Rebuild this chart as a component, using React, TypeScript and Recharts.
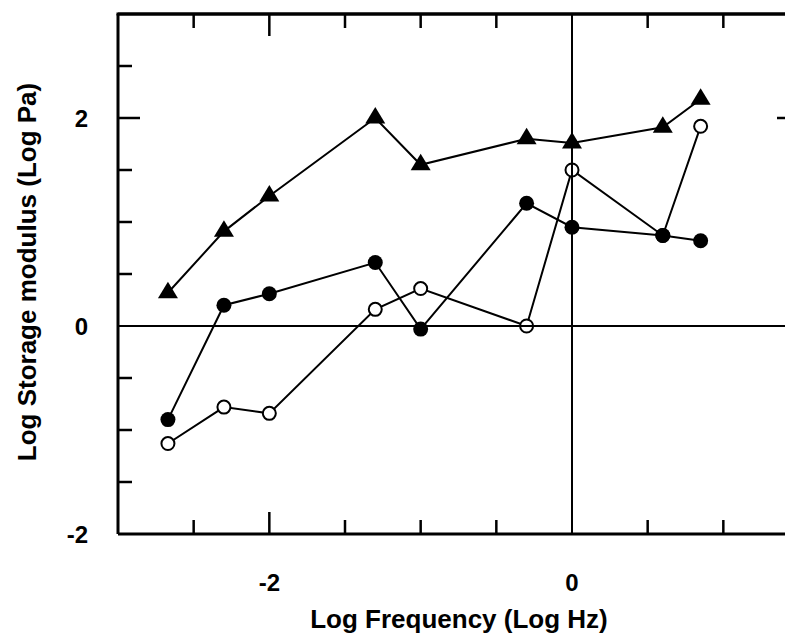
import React from "react";
import {
  LineChart,
  Line,
  XAxis,
  YAxis,
  ReferenceLine,
  Label,
} from "recharts";

// log10 of test frequency (Hz)
const logFreq = [-2.67, -2.3, -2.0, -1.3, -1.0, -0.3, 0, 0.6, 0.85];

// log10 storage modulus (Pa), one series per sample
const triangleSeries = [0.32, 0.91, 1.25, 2.0, 1.55, 1.8, 1.76, 1.91, 2.18];
const filledSeries = [-0.9, 0.2, 0.31, 0.61, -0.03, 1.18, 0.95, 0.87, 0.82];
const openSeries = [-1.13, -0.78, -0.84, 0.16, 0.36, 0.0, 1.5, 0.87, 1.92];

const xTicks = [-2.5, -2, -1.5, -1, -0.5, 0, 0.5, 1];
const yTicks = [-2, -1.5, -1, -0.5, 0, 0.5, 1, 1.5, 2, 2.5, 3];
const xLabels = [-2, 0];
const yLabels = [-2, 0, 2];
const X_MIN = -3;
const X_MAX = 1.5;
const Y_MIN = -2;
const Y_MAX = 3;

const rows = logFreq.map((f, i) => ({
  f,
  tri: triangleSeries[i],
  filled: filledSeries[i],
  open: openSeries[i],
}));

const FONT = "'Liberation Sans', Arial, Helvetica, sans-serif";
const CHART_W = 800;
const CHART_H = 632;
const MARGIN_TOP = 6;
const MARGIN_RIGHT = 9;
const X_AXIS_H = 106;
const Y_AXIS_W = 110;
const PLOT_H = CHART_H - MARGIN_TOP - X_AXIS_H;
const PLOT_W = CHART_W - Y_AXIS_W - MARGIN_RIGHT;
const MAJOR = 22;
const MINOR = 14;
const TICK_W = 2.5;
const FRAME_W = 3;
const ZERO_W = 2;

const tickLen = (v: number, labels: number[]) => (labels.includes(v) ? MAJOR : MINOR);

// bottom axis: inward ticks plus mirror stubs on the upper frame;
// at x = 0 the tick runs the full height as the vertical zero line
function BottomTick({ x, y, payload }: any) {
  const v = payload.value;
  const len = tickLen(v, xLabels);
  const top = y - PLOT_H;
  return (
    <g>
      {v === 0 ? (
        <line x1={x} y1={y} x2={x} y2={top} stroke="#000" strokeWidth={ZERO_W} />
      ) : (
        <g>
          <line x1={x} y1={y} x2={x} y2={y - len} stroke="#000" strokeWidth={TICK_W} />
          <line x1={x} y1={top} x2={x} y2={top + len} stroke="#000" strokeWidth={TICK_W} />
        </g>
      )}
      {xLabels.includes(v) && (
        <text x={x} y={y + 48} textAnchor="middle" dominantBaseline="central"
          fontFamily={FONT} fontWeight="bold" fontSize={24} fill="#000">
          {v}
        </text>
      )}
    </g>
  );
}

// left axis: inward ticks plus mirror stubs on the right edge;
// y = 0 becomes the horizontal zero line and the top value closes the frame
function LeftTick({ x, y, payload }: any) {
  const v = payload.value;
  const right = x + PLOT_W;
  if (v === Y_MAX) {
    return <line x1={x - FRAME_W / 2} y1={y} x2={right} y2={y} stroke="#000" strokeWidth={FRAME_W} />;
  }
  const len = v === Y_MIN ? 0 : tickLen(v, yLabels);
  return (
    <g>
      {v === 0 ? (
        <line x1={x} y1={y} x2={right} y2={y} stroke="#000" strokeWidth={ZERO_W} />
      ) : (
        <g>
          <line x1={x} y1={y} x2={x + len} y2={y} stroke="#000" strokeWidth={TICK_W} />
          <line x1={right} y1={y} x2={right - len} y2={y} stroke="#000" strokeWidth={TICK_W} />
        </g>
      )}
      {yLabels.includes(v) && (
        <text x={x - 30} y={y} textAnchor="end" dominantBaseline="central"
          fontFamily={FONT} fontWeight="bold" fontSize={24} fill="#000">
          {v}
        </text>
      )}
    </g>
  );
}

const triangleDot = (p: any) => (
  <polygon
    key={`tri-${p.index}`}
    points={`${p.cx},${p.cy - 11} ${p.cx - 10},${p.cy + 5.5} ${p.cx + 10},${p.cy + 5.5}`}
    fill="#000"
  />
);

export default function App() {
  return (
    <div style={{ width: 785, height: CHART_H, overflow: "hidden", background: "#fff" }}>
      <LineChart
        width={CHART_W}
        height={CHART_H}
        data={rows}
        margin={{ top: MARGIN_TOP, right: MARGIN_RIGHT, bottom: 0, left: 0 }}
      >
        <XAxis
          dataKey="f"
          type="number"
          domain={[X_MIN, X_MAX]}
          ticks={xTicks}
          allowDataOverflow
          height={X_AXIS_H}
          tickSize={0}
          tickMargin={0}
          tickLine={false}
          axisLine={{ stroke: "#000", strokeWidth: FRAME_W }}
          tick={<BottomTick />}
          interval={0}
        >
          <Label
            content={() => (
              <text x={451} y={611} textAnchor="middle" dominantBaseline="central"
                fontFamily={FONT} fontWeight="bold" fontSize={26} fill="#000">
                Log Frequency (Log Hz)
              </text>
            )}
          />
        </XAxis>
        <YAxis
          type="number"
          domain={[Y_MIN, Y_MAX]}
          ticks={yTicks}
          allowDataOverflow
          width={Y_AXIS_W}
          tickSize={0}
          tickMargin={0}
          tickLine={false}
          axisLine={{ stroke: "#000", strokeWidth: FRAME_W }}
          tick={<LeftTick />}
          interval={0}
        >
          <Label
            content={() => (
              <text x={19} y={264} textAnchor="middle" dominantBaseline="central"
                transform="rotate(-90 19 264)"
                fontFamily={FONT} fontWeight="bold" fontSize={26} fill="#000">
                Log Storage modulus (Log Pa)
              </text>
            )}
          />
        </YAxis>
        <ReferenceLine y={Y_MAX} stroke="#000" strokeWidth={FRAME_W} ifOverflow="visible" />
        <Line
          dataKey="open"
          stroke="#000"
          strokeWidth={2}
          dot={{ r: 6.5, fill: "#fff", stroke: "#000", strokeWidth: 2 }}
          isAnimationActive={false}
        />
        <Line
          dataKey="filled"
          stroke="#000"
          strokeWidth={2}
          dot={{ r: 7.5, fill: "#000", stroke: "#000", strokeWidth: 0 }}
          isAnimationActive={false}
        />
        <Line dataKey="tri" stroke="#000" strokeWidth={2} dot={triangleDot} isAnimationActive={false} />
      </LineChart>
    </div>
  );
}
